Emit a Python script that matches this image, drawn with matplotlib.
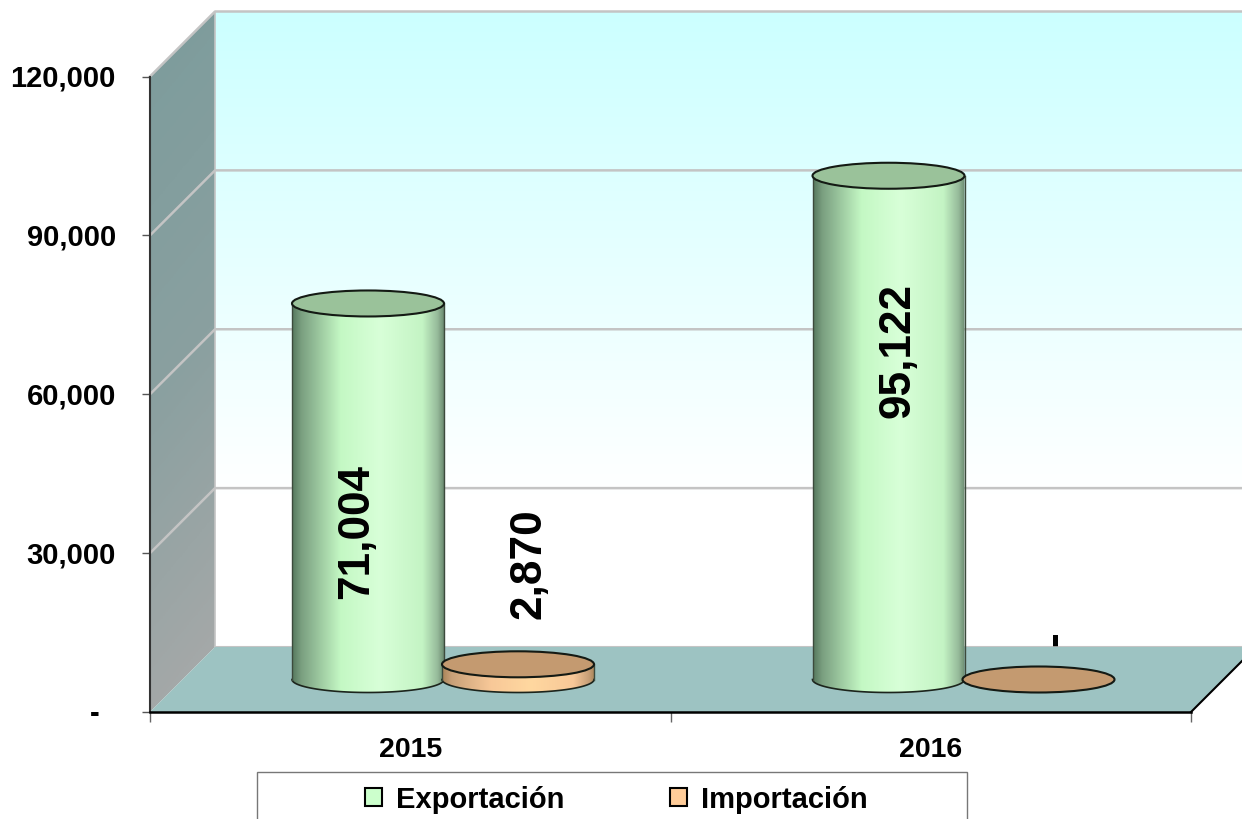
import matplotlib.pyplot as plt
import numpy as np
from matplotlib.colors import LinearSegmentedColormap
from matplotlib.patches import Ellipse, Patch, Polygon, Rectangle
from matplotlib.transforms import ScaledTranslation

plt.rcParams["font.family"] = ["Liberation Sans", "DejaVu Sans"]
plt.rcParams["font.weight"] = "bold"

years = ["2015", "2016"]
exportacion = [71004, 95122]
importacion = [2870, 0]
y_ticks = [0, 30000, 60000, 90000, 120000]
series_names = ["Exportación", "Importación"]

W, H = 1242, 820
fig = plt.figure(figsize=(W / 100, H / 100), dpi=100)
ax = fig.add_axes([150 / W, (H - 713) / H, 1041 / W, 635.5 / H])
ax.patch.set_visible(False)

xmax = len(years)
ymax = y_ticks[-1]
# 3D depth of the box, in data units
dx = 65 / 1041 * xmax
dy = 65 / 635.5 * ymax
# cylinder radii and distance of each cylinder from the group centre
rx = 76 / 1041 * xmax
ry = 13 / 635.5 * ymax
spread = 75 / 1041 * xmax
base = dy / 2


def grad_image(arr, cmap, extent, clip, zorder):
    im = ax.imshow(arr, cmap=cmap, extent=extent, aspect="auto", origin="upper",
                   vmin=0, vmax=1, zorder=zorder, interpolation="bilinear")
    poly = Polygon(clip, closed=True, transform=ax.transData)
    im.set_clip_path(poly)
    im.set_clip_box(fig.bbox)
    return im


# back wall
back_cmap = LinearSegmentedColormap.from_list("back", ["#ccffff", "#ffffff"])
t = np.clip(np.linspace(0, 1, 256) / 0.76, 0, 1).reshape(-1, 1)
back = [(dx, dy), (xmax + dx, dy), (xmax + dx, ymax + dy), (dx, ymax + dy)]
grad_image(t, back_cmap, (dx, xmax + dx, dy, ymax + dy), back, 1)

# left wall
side_cmap = LinearSegmentedColormap.from_list("side", ["#7c9c9c", "#8aa0a0", "#aaaaaa"])
gy, gx = np.mgrid[0:1:200j, 0:1:50j]
side = [(0, 0), (dx, dy), (dx, ymax + dy), (0, ymax)]
grad_image(gy * 0.9 + gx * 0.1, side_cmap, (0, dx, 0, ymax + dy), side, 1)

# floor
ax.add_patch(Polygon([(0, 0), (xmax, 0), (xmax + dx, dy), (dx, dy)], closed=True,
                     facecolor="#9dc3c2", edgecolor="none", zorder=2, clip_on=False))
ax.plot([xmax, xmax + dx], [0, dy], color="black", lw=1.5, zorder=2.5, clip_on=False)

# gridlines on the walls
for v in y_ticks:
    if v > 0:
        ax.plot([0, dx, xmax + dx], [v, v + dy, v + dy], color="#c4c4c4", lw=1.8,
                zorder=1.5, clip_on=False)
ax.plot([dx, xmax + dx], [dy, dy], color="#c4c4c4", lw=1.5, zorder=1.5, clip_on=False)
ax.plot([dx, dx], [dy, ymax + dy], color="#c4c4c4", lw=1.2, zorder=1.5, clip_on=False)

green_cmap = LinearSegmentedColormap.from_list(
    "green", [(0, "#56785e"), (0.06, "#7a9f80"), (0.32, "#c4f8c4"), (0.58, "#d8ffd8"),
              (0.86, "#c4f4c4"), (0.96, "#96ba9a"), (1, "#6c8c72")])
orange_cmap = LinearSegmentedColormap.from_list(
    "orange", [(0, "#a88458"), (0.06, "#c8a078"), (0.32, "#f8c898"), (0.58, "#ffd8a0"),
               (0.86, "#f8c898"), (0.96, "#c8a078"), (1, "#a88458")])


def cylinder(cx, value, cmap, top_color, z):
    theta = np.linspace(np.pi, 2 * np.pi, 80)
    arc_x = cx + rx * np.cos(theta)
    arc_y = base + ry * np.sin(theta)
    top = base + value
    if value > 0:
        outline = list(zip(arc_x, arc_y)) + [(cx + rx, top), (cx - rx, top)]
        ramp = np.linspace(0, 1, 256).reshape(1, -1)
        grad_image(ramp, cmap, (cx - rx, cx + rx, base - ry, top), outline, z)
        ax.plot(arc_x, arc_y, color="#1c241c", lw=1.2, zorder=z + 0.1, clip_on=False)
        for sx in (cx - rx, cx + rx):
            ax.plot([sx, sx], [base, top], color="#3c4a3c", lw=1, zorder=z + 0.1, clip_on=False)
    ax.add_patch(Ellipse((cx, top), 2 * rx, 2 * ry, facecolor=top_color, edgecolor="#141a14",
                         lw=1.5, zorder=z + 0.2, clip_on=False))


# bars plus their value labels (label offset from top of the cylinder, pixels)
export_offsets = [(-11.5, -227.5), (9.5, -174)]
import_offsets = [(11, 102), (16, 42)]

for i in range(len(years)):
    c = i + 0.5 + dx / 2 + 0.25 / 1041 * xmax
    cylinder(c - spread, exportacion[i], green_cmap, "#9ac29a", 3 + i)
    cylinder(c + spread, importacion[i], orange_cmap, "#c49a70", 3.5 + i)
    for cx, val, off in ((c - spread, exportacion[i], export_offsets[i]),
                         (c + spread, importacion[i], import_offsets[i])):
        ax.annotate(f"{val:,}" if val else "-", xy=(cx, base + val), xytext=off,
                    textcoords="offset pixels", rotation=90, ha="center", va="center",
                    fontsize=31.8, fontweight="bold", color="black", zorder=8,
                    annotation_clip=False)

ax.set_xlim(0, xmax)
ax.set_ylim(0, ymax)

for s in ("top", "right"):
    ax.spines[s].set_visible(False)
ax.spines["left"].set_color("#333333")
ax.spines["left"].set_linewidth(1.5)
ax.spines["bottom"].set_color("black")
ax.spines["bottom"].set_linewidth(1.8)
for s in ax.spines.values():
    s.set_zorder(2.6)

ax.set_yticks(y_ticks)
ax.set_yticklabels([f"{v:,}" if v else "-  " for v in y_ticks])
ax.tick_params(axis="y", length=6, width=1, color="#555555", pad=18.5, labelsize=21)
# nudge y labels up a little
nudge = ScaledTranslation(0, 1.5 / 100, fig.dpi_scale_trans)
for lab in ax.get_yticklabels():
    lab.set_transform(lab.get_transform() + nudge)
ax.set_xticks(range(xmax + 1))
ax.set_xticklabels([])
ax.tick_params(axis="x", which="major", length=7, width=1, color="#666666")
ax.set_xticks([i + 0.5 for i in range(xmax)], minor=True)
ax.set_xticklabels(years, minor=True)
ax.tick_params(axis="x", which="minor", length=0, pad=17, labelsize=20.5)

# legend box runs off the bottom of the picture
fig.add_artist(Rectangle((257 / W, -0.02), 710 / W, 1 - 773 / H + 0.02, transform=fig.transFigure,
                         facecolor="white", edgecolor="#777777", lw=1, zorder=-1))
handles = [Patch(facecolor="#ccffcc", edgecolor="black", lw=1.5, label=series_names[0]),
           Patch(facecolor="#ffcc99", edgecolor="black", lw=1.5, label=series_names[1])]
leg = ax.legend(handles=handles, ncols=2, frameon=False, fontsize=21, loc="center left",
                bbox_to_anchor=(365 / W, 1 - 800 / H), bbox_transform=fig.transFigure,
                borderpad=0, borderaxespad=0, handlelength=0.58, handleheight=0.58,
                handletextpad=0.5, columnspacing=3.6)
leg.set_zorder(10)

plt.savefig("out.png", dpi=100)
